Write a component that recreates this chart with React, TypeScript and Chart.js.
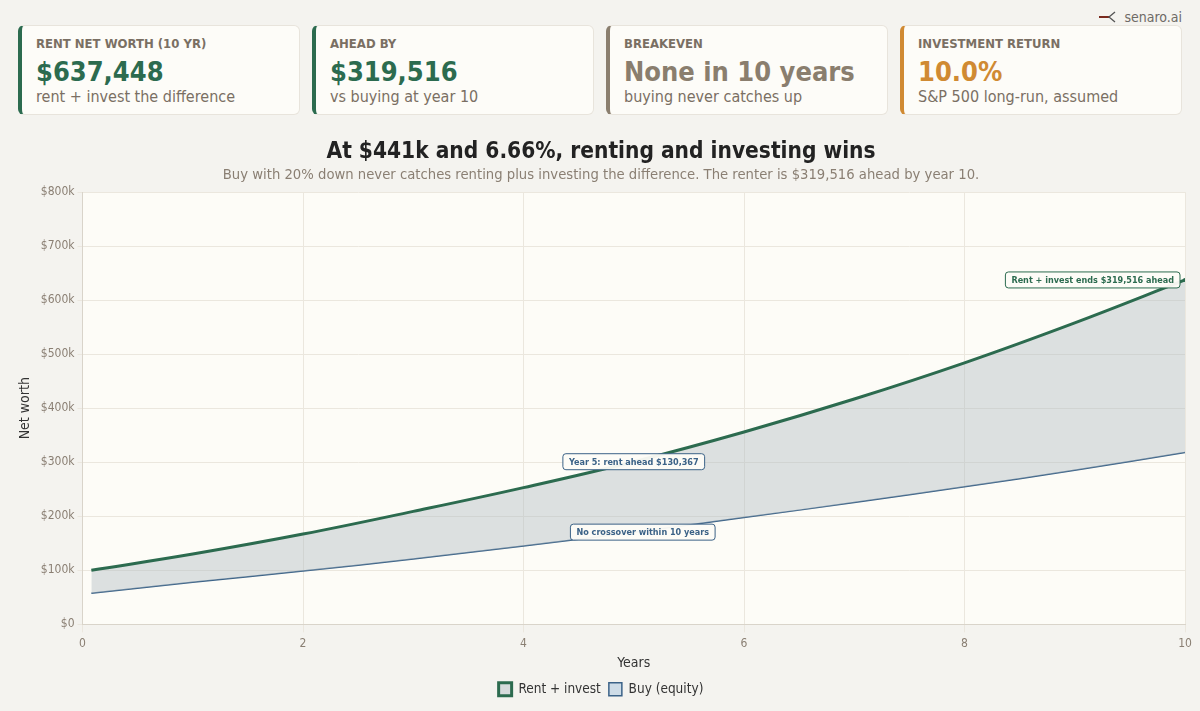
import React, { useEffect, useRef } from "react";
import { Chart, registerables } from "chart.js";

Chart.register(...registerables);

const FONT = "'DejaVu Sans Condensed', 'DejaVu Sans', sans-serif";

const years = [0.08, 1, 2, 3, 4, 5, 6, 7, 8, 9, 10];
const rentValues = [100000, 130000, 167000, 209000, 253000, 300970, 356000, 417000, 484000, 558000, 637448];
const buyValues = [57500, 78000, 98500, 121000, 145000, 170603, 197500, 225500, 254500, 285000, 317932];
const seriesLabels = ["Rent + invest", "Buy (equity)"];
const xTicks = [0, 2, 4, 6, 8, 10];
const yTicks = [0, 100000, 200000, 300000, 400000, 500000, 600000, 700000, 800000];

const titleText = "At $441k and 6.66%, renting and investing wins";
const subtitleText =
  "Buy with 20% down never catches renting plus investing the difference. The renter is $319,516 ahead by year 10.";

const cardLabels = ["RENT NET WORTH (10 YR)", "AHEAD BY", "BREAKEVEN", "INVESTMENT RETURN"];
const cardValues = ["$637,448", "$319,516", "None in 10 years", "10.0%"];
const cardSubs = ["rent + invest the difference", "vs buying at year 10", "buying never catches up", "S&P 500 long-run, assumed"];
const cardColors = ["#2c6b4f", "#2c6b4f", "#8a7e6e", "#d08a33"];

const annotationTexts = ["Year 5: rent ahead $130,367", "No crossover within 10 years", "Rent + invest ends $319,516 ahead"];
const annotationSeries = [0, 1, 0];
const annotationIndex = [5, 5, 10];

const GREEN = "#2c6b4f";
const BLUE = "#3b6287";

const plotBgPlugin = {
  id: "plotBg",
  beforeDraw(chart: any) {
    const { ctx, chartArea } = chart;
    if (!chartArea) return;
    ctx.save();
    ctx.fillStyle = "#fdfcf7";
    ctx.fillRect(chartArea.left, chartArea.top, chartArea.right - chartArea.left, chartArea.bottom - chartArea.top);
    ctx.restore();
  },
};

function roundRect(ctx: CanvasRenderingContext2D, x: number, y: number, w: number, h: number, r: number) {
  ctx.beginPath();
  ctx.moveTo(x + r, y);
  ctx.lineTo(x + w - r, y);
  ctx.quadraticCurveTo(x + w, y, x + w, y + r);
  ctx.lineTo(x + w, y + h - r);
  ctx.quadraticCurveTo(x + w, y + h, x + w - r, y + h);
  ctx.lineTo(x + r, y + h);
  ctx.quadraticCurveTo(x, y + h, x, y + h - r);
  ctx.lineTo(x, y + r);
  ctx.quadraticCurveTo(x, y, x + r, y);
  ctx.closePath();
}

const annotationPlugin = {
  id: "notes",
  afterDatasetsDraw(chart: any) {
    const { ctx, scales } = chart;
    const xs = scales.x;
    const ys = scales.y;
    const series = [rentValues, buyValues];
    ctx.save();
    ctx.font = `bold 9px ${FONT}`;
    annotationTexts.forEach((text, i) => {
      const s = annotationSeries[i];
      const idx = annotationIndex[i];
      const px = xs.getPixelForValue(years[idx]);
      const py = ys.getPixelForValue(series[s][idx]);
      const color = i === 2 ? GREEN : BLUE;
      const w = ctx.measureText(text).width + 12;
      const h = 16;
      let bx = px - w / 2;
      if (i === 1) bx += 9;
      if (i === 2) bx = px - w - 5;
      const by = py - h / 2;
      ctx.fillStyle = "rgba(253,252,247,0.95)";
      roundRect(ctx, bx, by, w, h, 3);
      ctx.fill();
      ctx.strokeStyle = color;
      ctx.lineWidth = 1;
      ctx.stroke();
      ctx.fillStyle = color;
      ctx.textAlign = "center";
      ctx.textBaseline = "middle";
      ctx.fillText(text, bx + w / 2, by + h / 2 + 0.5);
    });
    ctx.restore();
  },
};

function ChartView() {
  const ref = useRef<HTMLCanvasElement | null>(null);
  useEffect(() => {
    if (!ref.current) return;
    const chart = new Chart(ref.current, {
      type: "line",
      data: {
        datasets: [
          {
            label: seriesLabels[0],
            data: years.map((x, i) => ({ x, y: rentValues[i] })),
            borderColor: GREEN,
            borderWidth: 3,
            backgroundColor: "rgba(173,185,193,0.42)",
            fill: "+1",
            tension: 0.4,
            pointRadius: years.map((_, i) => (i === years.length - 1 ? 2 : 0)),
            pointBackgroundColor: GREEN,
            pointBorderWidth: 0,
          },
          {
            label: seriesLabels[1],
            data: years.map((x, i) => ({ x, y: buyValues[i] })),
            borderColor: BLUE,
            borderWidth: 1.5,
            backgroundColor: "rgba(190,210,228,0.7)",
            fill: false,
            tension: 0.4,
            pointRadius: 0,
          },
        ],
      },
      options: {
        animation: false,
        responsive: false,
        maintainAspectRatio: false,
        layout: { padding: { left: 17, right: 15, top: 0, bottom: 5 } },
        plugins: {
          title: {
            display: true,
            text: titleText,
            color: "#222222",
            font: { family: FONT, size: 22.5, weight: "bold" },
            padding: { top: 9, bottom: 0 },
          },
          subtitle: {
            display: true,
            text: subtitleText,
            color: "#8a7f73",
            font: { family: FONT, size: 14.7 },
            padding: { top: 0, bottom: 8.5 },
          },
          legend: {
            position: "bottom",
            labels: {
              color: "#333333",
              font: { family: FONT, size: 13.5 },
              boxWidth: 13,
              boxHeight: 13,
              padding: 8,
            },
          },
          tooltip: { enabled: false },
        },
        scales: {
          x: {
            type: "linear",
            min: 0,
            max: 10,
            afterBuildTicks: (axis: any) => {
              axis.ticks = xTicks.map((v) => ({ value: v }));
            },
            ticks: { color: "#8a7f73", font: { family: FONT, size: 12 }, padding: 4 },
            grid: { color: "#ebe7de", tickLength: 8 },
            border: { color: "#d9d4ca" },
            title: { display: true, text: "Years", color: "#333333", font: { family: FONT, size: 14 }, padding: { top: 0, bottom: 3 } },
          },
          y: {
            min: 0,
            max: 800000,
            afterBuildTicks: (axis: any) => {
              axis.ticks = yTicks.map((v) => ({ value: v }));
            },
            ticks: {
              color: "#8a7f73",
              font: { family: FONT, size: 12 },
              padding: 3,
              callback: (v: any) => (v === 0 ? "$0" : `$${Math.round(v / 1000)}k`),
            },
            grid: { color: "#ebe7de", tickLength: 5 },
            border: { color: "#d9d4ca" },
            title: { display: true, text: "Net worth", color: "#333333", font: { family: FONT, size: 14 }, padding: { top: 0, bottom: 4 } },
          },
        },
      },
      plugins: [plotBgPlugin, annotationPlugin],
    } as any);
    return () => chart.destroy();
  }, []);
  return <canvas ref={ref} width={1200} height={581} style={{ display: "block" }} />;
}

export default function App() {
  return (
    <div
      style={{
        position: "fixed",
        left: 0,
        top: 0,
        width: 1200,
        height: 711,
        background: "#f4f3ef",
        fontFamily: FONT,
        overflow: "hidden",
      }}
    >
      <div style={{ position: "absolute", right: 18, top: 9, display: "flex", alignItems: "center", gap: 8, color: "#6e6a66", fontSize: 14 }}>
        <svg width="18" height="12" viewBox="0 0 18 12">
          <line x1="1" y1="6" x2="12" y2="6" stroke="#7a2a1e" strokeWidth="2" />
          <polyline points="17,1 11,6 17,11" fill="none" stroke="#555" strokeWidth="1.3" />
        </svg>
        <span>senaro.ai</span>
      </div>
      {cardLabels.map((label, i) => (
        <div
          key={i}
          style={{
            position: "absolute",
            left: 18 + i * 294,
            top: 25,
            width: 282,
            height: 90,
            boxSizing: "border-box",
            background: "#fdfcf8",
            border: "1px solid #e8e4dc",
            borderLeft: `4px solid ${cardColors[i]}`,
            borderRadius: 6,
            padding: "9px 14px",
          }}
        >
          <div style={{ fontSize: 13, fontWeight: "bold", color: "#7a6f63", lineHeight: "18px" }}>{label}</div>
          <div style={{ fontSize: 27, fontWeight: "bold", color: cardColors[i], lineHeight: "30px", marginTop: 4 }}>{cardValues[i]}</div>
          <div style={{ fontSize: 16, color: "#7a6f63", lineHeight: "20px" }}>{cardSubs[i]}</div>
        </div>
      ))}
      <div style={{ position: "absolute", left: 0, top: 130 }}>
        <ChartView />
      </div>
    </div>
  );
}
